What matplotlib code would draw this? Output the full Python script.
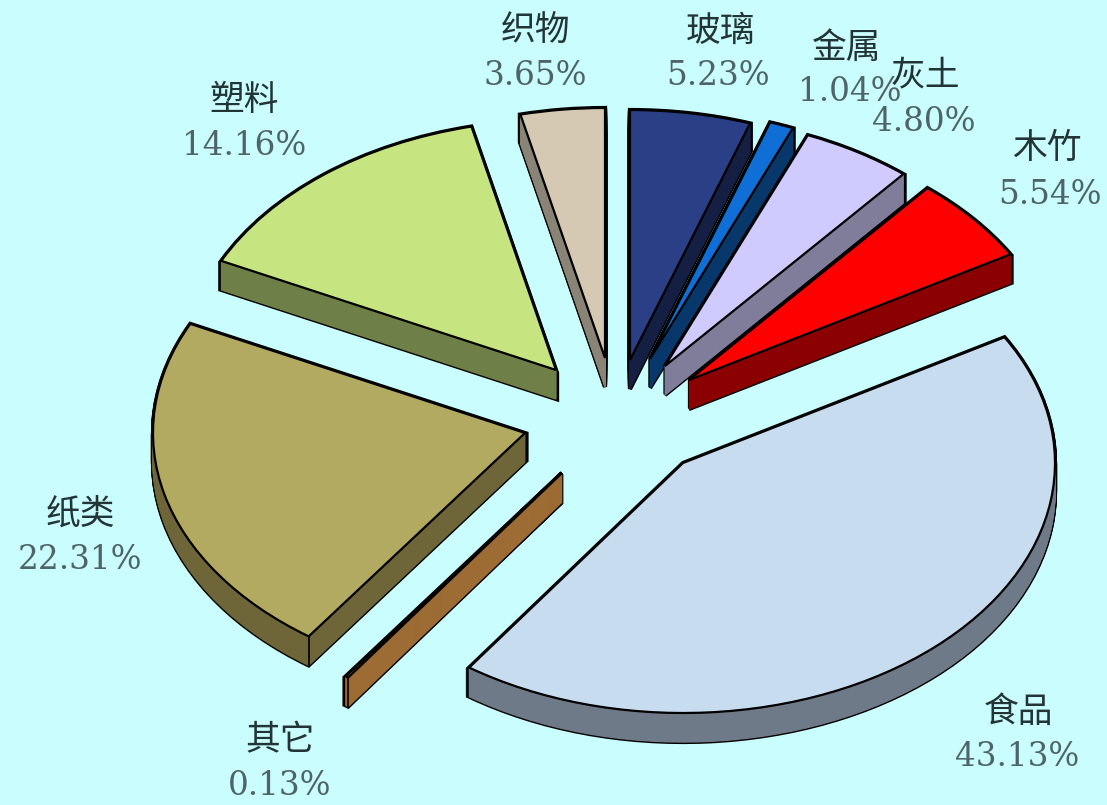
#!/usr/bin/env python

import matplotlib
matplotlib.use('Agg')
import matplotlib.pyplot as plt
from matplotlib.patches import Wedge
from matplotlib.transforms import Affine2D

plt.rcParams['font.family'] = ['DejaVu Serif', 'Noto Sans CJK SC']

labels = ['玻璃', '金属', '灰土', '木竹', '食品', '其它', '纸类', '塑料', '织物']
percents = [5.23, 1.04, 4.80, 5.54, 43.13, 0.13, 22.31, 14.16, 3.65]
top_colors = ['#2A3F86', '#0F6FD6', '#CFCBFF', '#FF0000', '#C8DCF0', '#A8783C', '#B3AA62', '#C6E480', '#D5C9B4']
side_colors = ['#151F43', '#08386B', '#7F7D99', '#8B0000', '#6F7A88', '#9C6C34', '#6E6538', '#6E7F48', '#8A8476']

# explode offsets from the pie centre, in pixels
center = (610, 370)
shift_x = [20, 40, 55, 79, 73, -48, -85, -54, -5]
shift_y = [-10, -11, -4, 10, 93, 103, 63, 0, -12]
radius_x = 372
radius_y = 250
depth = 29

label_x = [720, 847, 925, 1048, 1018, 280, 80, 244, 535]
label_y = [31, 48, 75, 148, 712, 740, 514, 100, 30]
pct_x = [718, 850, 924, 1050, 1017, 280, 80, 244, 535]
pct_y = [76, 92, 122, 195, 757, 786, 560, 146, 76]

fig = plt.figure(figsize=(11.07, 8.05), dpi=100, facecolor='#CAFDFD')
ax = fig.add_axes([0, 0, 1, 1])
ax.set_xlim(0, 1107)
ax.set_ylim(805, 0)
ax.axis('off')


def add_slice(start, end, x, y, **style):
    # unit wedge squashed to the ellipse; the y flip makes angles run clockwise
    squash = Affine2D().scale(radius_x, radius_y).translate(x, y) + ax.transData
    ax.add_patch(Wedge((0, 0), 1, start - 90, end - 90, transform=squash, **style))


total = sum(percents)
angle = 0
for i, pct in enumerate(percents):
    start = angle
    end = angle + pct / total * 360
    angle = end
    x = center[0] + shift_x[i]
    y = center[1] + shift_y[i]
    # black stack then coloured stack leaves only the outline of the extrusion
    for d in range(depth + 1):
        add_slice(start, end, x, y + d, facecolor='black', edgecolor='black', linewidth=3)
    for d in range(depth + 1):
        add_slice(start, end, x, y + d, facecolor=side_colors[i], edgecolor=side_colors[i], linewidth=1)
    add_slice(start, end, x, y, facecolor=top_colors[i], edgecolor='black', linewidth=1.6)
    if 90 < start < 270:
        corner = Affine2D().rotate_deg(start - 90).scale(radius_x, radius_y).translate(x, y)
        cx, cy = corner.transform((1, 0))
        ax.plot([cx, cx], [cy, cy + depth], color='black', linewidth=1.2)

for i, name in enumerate(labels):
    ax.text(label_x[i], label_y[i], name, fontsize=25, color='#233436', ha='center', va='center')
    ax.text(pct_x[i], pct_y[i], '%.2f%%' % percents[i], fontsize=23.5, color='#4F6468', ha='center', va='center')

fig.savefig('out.png', dpi=100, facecolor=fig.get_facecolor())
